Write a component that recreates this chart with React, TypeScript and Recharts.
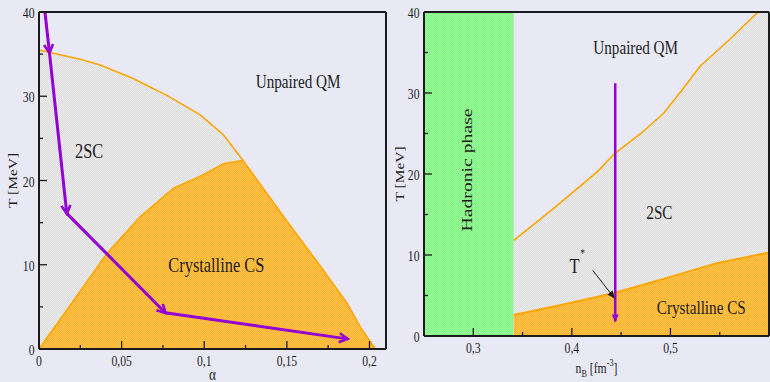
import { ComposedChart, Area, Line, XAxis, YAxis, ReferenceArea, ReferenceDot } from 'recharts'

// ---- left panel: T against the asymmetry parameter alpha ----
const alphaTicks = [0, 0.025, 0.05, 0.075, 0.1, 0.125, 0.15, 0.175, 0.2]
const alphaLabels = [0, 0.05, 0.1, 0.15, 0.2]
const tempTicks = [0, 5, 10, 15, 20, 25, 30, 35, 40]
const tempLabels = [0, 10, 20, 30, 40]

// 2SC / unpaired boundary
const twoScEdgeA = [
  { a: 0, t: 35.5 },
  { a: 0.025, t: 34.4 },
  { a: 0.037, t: 33.7 },
  { a: 0.057, t: 32.1 },
  { a: 0.0774, t: 30.1 },
  { a: 0.0976, t: 27.8 },
  { a: 0.1117, t: 25.4 },
  { a: 0.1234, t: 22.4 },
]

// crystalline region outline (rises from the origin, falls to alpha ~ 0.2)
const crystalEdgeA = [
  { a: 0, t: 0 },
  { a: 0.02, t: 5.5 },
  { a: 0.041, t: 11.3 },
  { a: 0.0612, t: 15.7 },
  { a: 0.0814, t: 19.1 },
  { a: 0.0976, t: 20.5 },
  { a: 0.1117, t: 22.0 },
  { a: 0.1234, t: 22.4 },
  { a: 0.15, t: 15.2 },
  { a: 0.17, t: 9.9 },
  { a: 0.1865, t: 5.4 },
  { a: 0.1945, t: 2.6 },
  { a: 0.2035, t: 0 },
]

// cooling trajectory, drawn segment by segment with arrowheads
const coolingPath = [
  { a: 0.0036, t: 40 },
  { a: 0.0063, t: 35.2 },
  { a: 0.0168, t: 16.1 },
  { a: 0.0764, t: 4.3 },
  { a: 0.1865, t: 1.2 },
]

const alphaTags = [
  { a: 0.1568, t: 31.8, text: 'Unpaired QM' },
  { a: 0.0303, t: 23.5, text: '2SC' },
  { a: 0.1073, t: 9.95, text: 'Crystalline CS' },
]

// ---- right panel: T against baryon density ----
const densTicks = [0.25, 0.3, 0.35, 0.4, 0.45, 0.5, 0.55, 0.6]
const densLabels = [0.3, 0.4, 0.5]
const hadronEnd = 0.341

const twoScEdgeN = [
  { n: 0.341, t: 11.8 },
  { n: 0.38, t: 15.6 },
  { n: 0.426, t: 20.3 },
  { n: 0.443, t: 22.5 },
  { n: 0.47, t: 25.0 },
  { n: 0.493, t: 27.5 },
  { n: 0.512, t: 30.4 },
  { n: 0.53, t: 33.3 },
  { n: 0.56, t: 36.6 },
  { n: 0.589, t: 40 },
  { n: 0.6, t: 41.3 },
]

const crystalEdgeN = [
  { n: 0.341, t: 2.6 },
  { n: 0.3994, t: 4.1 },
  { n: 0.443, t: 5.3 },
  { n: 0.5, t: 7.3 },
  { n: 0.547, t: 9.0 },
  { n: 0.6, t: 10.3 },
]

const quench = [
  { n: 0.444, t: 31.2 },
  { n: 0.444, t: 1.8 },
]

const tStarPointer = [
  { n: 0.4212, t: 8.1 },
  { n: 0.443, t: 4.7 },
]

const densTags = [
  { n: 0.4647, t: 35.6, text: 'Unpaired QM' },
  { n: 0.4888, t: 15.3, text: '2SC' },
  { n: 0.5313, t: 3.6, text: 'Crystalline CS' },
]

const INK = '#1b1b1b'
const BG = '#E9E9F5'
const ORANGE = '#FFA500'
const PURPLE = '#9400D3'
const SERIF = '"Liberation Serif", "DejaVu Serif", serif'
const SQ = 0.78 // glyphs are set narrow

const fmt = (v: number) => String(v).replace('.', ',')

function Squeeze({ x, y, size, anchor = 'middle', baseline = 'central', rotate = false, children }: any) {
  return (
    <text
      transform={`translate(${x},${y}) scale(${SQ},1)${rotate ? ' rotate(-90)' : ''}`}
      textAnchor={anchor}
      dominantBaseline={baseline}
      fontFamily={SERIF}
      fontSize={size}
      fill={INK}
    >
      {children}
    </text>
  )
}

type Side = 'bottom' | 'top' | 'left' | 'right'

// inward tick marks, labels only on the outer left/bottom axes
const tickMark = (side: Side, labels: number[], below = 16.5) => (p: any) => {
  const v = p.payload.value as number
  const major = labels.some((m) => Math.abs(m - v) < 1e-6)
  const len = major ? 8 : 4
  const { x, y } = p
  const end =
    side === 'bottom' ? [x, y - len] : side === 'top' ? [x, y + len] : side === 'left' ? [x + len, y] : [x - len, y]
  return (
    <g>
      <line x1={x} y1={y} x2={end[0]} y2={end[1]} stroke={INK} strokeWidth={1.3} />
      {major && side === 'bottom' && (
        <Squeeze x={x} y={y + below} size={15} baseline="auto">
          {fmt(v)}
        </Squeeze>
      )}
      {major && side === 'left' && (
        <Squeeze x={x - 4.5} y={y + 1} size={15} anchor="end">
          {fmt(v)}
        </Squeeze>
      )}
    </g>
  )
}

const tag = (text: string, size: number, rotate = false) => (p: any) => (
  <Squeeze x={p.cx} y={p.cy} size={size} rotate={rotate}>
    {text}
  </Squeeze>
)

const yTitle = (dx: number) => (p: any) => {
  const vb = p.viewBox
  return (
    <Squeeze x={vb.x + dx} y={vb.y + vb.height / 2} size={15.5} rotate>
      T [MeV]
    </Squeeze>
  )
}

function Fills({ id }: { id: string }) {
  const pat = (name: string, base: string, light: string) => (
    <pattern id={`${id}-${name}`} width={2} height={2} patternUnits="userSpaceOnUse">
      <rect width={2} height={2} fill={base} />
      <rect width={1} height={1} fill={light} />
      <rect x={1} y={1} width={1} height={1} fill={light} />
    </pattern>
  )
  return (
    <defs>
      {pat('grey', '#DCDCDC', '#ECECEC')}
      {pat('orange', '#FDB026', '#FFC656')}
      {pat('green', '#7AF47A', '#A0FAA0')}
      <marker id={`${id}-chev`} markerWidth={12} markerHeight={12} refX={9} refY={6} orient="auto" markerUnits="userSpaceOnUse">
        <path d="M1,1.5 L9.5,6 L1,10.5" fill="none" stroke={PURPLE} strokeWidth={2.6} />
      </marker>
      <marker id={`${id}-tri`} markerWidth={10} markerHeight={10} refX={7} refY={5} orient="auto" markerUnits="userSpaceOnUse">
        <path d="M0,1.5 L8,5 L0,8.5 Z" fill={PURPLE} />
      </marker>
      <marker id={`${id}-blk`} markerWidth={10} markerHeight={10} refX={7} refY={5} orient="auto" markerUnits="userSpaceOnUse">
        <path d="M0,1.8 L8,5 L0,8.2 Z" fill={INK} />
      </marker>
    </defs>
  )
}

const frame = { stroke: INK, strokeWidth: 2 }

function AlphaPanel() {
  const segments = coolingPath.slice(1).map((p, i) => [coolingPath[i], p])
  return (
    <ComposedChart width={390} height={382} margin={{ top: 11, right: 3, bottom: 3, left: 9 }}>
      <Fills id="l" />
      <Area data={twoScEdgeA} dataKey="t" type="linear" fill="url(#l-grey)" fillOpacity={1} stroke={ORANGE} strokeWidth={1.6} isAnimationActive={false} />
      <Area data={crystalEdgeA} dataKey="t" type="linear" fill="url(#l-orange)" fillOpacity={1} stroke={ORANGE} strokeWidth={1.6} isAnimationActive={false} />
      {segments.map((seg, i) => (
        <Line
          key={i}
          data={seg}
          dataKey="t"
          type="linear"
          stroke={PURPLE}
          strokeWidth={3}
          dot={false}
          activeDot={false}
          markerEnd="url(#l-chev)"
          isAnimationActive={false}
        />
      ))}
      {alphaTags.map((d) => (
        <ReferenceDot key={d.text} x={d.a} y={d.t} r={1} shape={tag(d.text, d.text === 'Unpaired QM' ? 19.5 : 21)} />
      ))}
      <XAxis
        dataKey="a"
        type="number"
        domain={[0, 0.21]}
        ticks={alphaTicks}
        interval={0}
        tickSize={0}
        tickMargin={0}
        tickLine={false}
        axisLine={frame}
        tick={tickMark('bottom', alphaLabels)}
        height={30}
        label={{
          content: (p: any) => (
            <Squeeze x={p.viewBox.x + p.viewBox.width / 2} y={p.viewBox.y + 31} size={17} baseline="auto">
              α
            </Squeeze>
          ),
        }}
      />
      <XAxis xAxisId="top" orientation="top" type="number" domain={[0, 0.21]} ticks={alphaTicks} interval={0} tickSize={0} tickMargin={0} tickLine={false} axisLine={frame} tick={tickMark('top', alphaLabels)} height={1} />
      <YAxis
        type="number"
        domain={[0, 40]}
        ticks={tempTicks}
        interval={0}
        tickSize={0}
        tickMargin={0}
        tickLine={false}
        axisLine={frame}
        tick={tickMark('left', tempLabels)}
        width={30}
        label={{ content: yTitle(4.3) }}
      />
      <YAxis yAxisId="right" orientation="right" type="number" domain={[0, 40]} ticks={tempTicks} interval={0} tickSize={0} tickMargin={0} tickLine={false} axisLine={frame} tick={tickMark('right', tempLabels)} width={1} />
    </ComposedChart>
  )
}

function DensityPanel() {
  return (
    <ComposedChart width={380} height={382} margin={{ top: 11, right: 0, bottom: 16, left: 4 }}>
      <Fills id="r" />
      <ReferenceArea x1={0.25} x2={hadronEnd} y1={0} y2={40} fill="url(#r-green)" fillOpacity={1} stroke="none" />
      <Area data={twoScEdgeN} dataKey="t" type="linear" fill="url(#r-grey)" fillOpacity={1} stroke={ORANGE} strokeWidth={1.6} isAnimationActive={false} />
      <Area data={crystalEdgeN} dataKey="t" type="linear" fill="url(#r-orange)" fillOpacity={1} stroke={ORANGE} strokeWidth={2} isAnimationActive={false} />
      <Line data={quench} dataKey="t" type="linear" stroke={PURPLE} strokeWidth={2.5} dot={false} activeDot={false} markerEnd="url(#r-tri)" isAnimationActive={false} />
      <Line data={tStarPointer} dataKey="t" type="linear" stroke={INK} strokeWidth={1} dot={false} activeDot={false} markerEnd="url(#r-blk)" isAnimationActive={false} />
      {densTags.map((d) => (
        <ReferenceDot key={d.text} x={d.n} y={d.t} r={1} shape={tag(d.text, 19.5)} />
      ))}
      <ReferenceDot x={0.2937} y={20.5} r={1} shape={tag('Hadronic phase', 19.7, true)} />
      <ReferenceDot
        x={0.4054}
        y={8.7}
        r={1}
        shape={(p: any) => (
          <Squeeze x={p.cx} y={p.cy} size={21}>
            T
            <tspan fontSize={12} dx={1} dy={-13}>
              *
            </tspan>
          </Squeeze>
        )}
      />
      <XAxis
        dataKey="n"
        type="number"
        domain={[0.25, 0.6]}
        ticks={densTicks}
        interval={0}
        tickSize={0}
        tickMargin={0}
        tickLine={false}
        axisLine={frame}
        tick={tickMark('bottom', densLabels)}
        height={30}
        label={{
          content: (p: any) => (
            <Squeeze x={p.viewBox.x + p.viewBox.width / 2} y={p.viewBox.y + 37} size={15} baseline="auto">
              n
              <tspan fontSize={10.5} dy={4}>
                B
              </tspan>
              <tspan dy={-4}> [fm</tspan>
              <tspan fontSize={10.5} dy={-7}>
                -3
              </tspan>
              <tspan dy={7}>]</tspan>
            </Squeeze>
          ),
        }}
      />
      <XAxis xAxisId="top" orientation="top" type="number" domain={[0.25, 0.6]} ticks={densTicks} interval={0} tickSize={0} tickMargin={0} tickLine={false} axisLine={frame} tick={tickMark('top', densLabels)} height={1} />
      <YAxis
        type="number"
        domain={[0, 40]}
        allowDataOverflow
        ticks={tempTicks}
        interval={0}
        tickSize={0}
        tickMargin={0}
        tickLine={false}
        axisLine={frame}
        tick={tickMark('left', tempLabels)}
        width={30}
        label={{ content: yTitle(6) }}
      />
      <YAxis yAxisId="right" orientation="right" type="number" domain={[0, 40]} ticks={tempTicks} interval={0} tickSize={0} tickMargin={0} tickLine={false} axisLine={frame} tick={tickMark('right', tempLabels)} width={1} />
    </ComposedChart>
  )
}

export default function App() {
  return (
    <div style={{ position: 'absolute', left: 0, top: 0, width: 770, height: 382, background: BG, overflow: 'hidden' }}>
      <div style={{ position: 'absolute', left: 0, top: 0 }}>
        <AlphaPanel />
      </div>
      <div style={{ position: 'absolute', left: 390, top: 0 }}>
        <DensityPanel />
      </div>
    </div>
  )
}
